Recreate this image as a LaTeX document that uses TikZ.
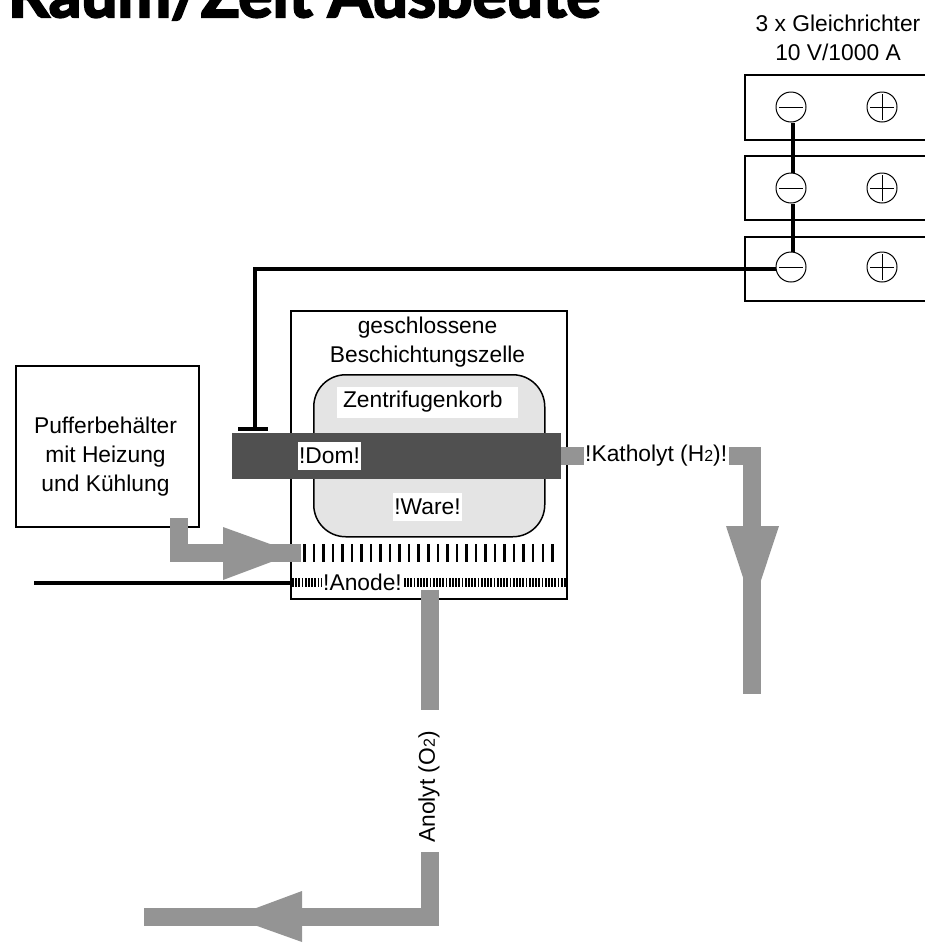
\documentclass[tikz,border=0pt]{standalone}
\usepackage{fontspec}
\setmainfont{Liberation Sans}
\newfontfamily\titlefont[BoldFeatures={FakeBold=3.5}]{Lato}
\usepackage{xcolor}
\definecolor{pipegray}{HTML}{949494}
\definecolor{domgray}{HTML}{505050}
\definecolor{korbgray}{HTML}{E4E4E4}

\begin{document}
\begin{tikzpicture}[
      x=1pt, y=-1pt,
      every node/.style={font=\fontsize{22.8}{29}\selectfont},
      outline/.style={draw, line width=2pt},
      pipe/.style={draw=pipegray, line width=18pt, line join=miter},
      pipehead/.style={fill=pipegray},
      wire/.style={draw, line width=4pt},
      tag/.style={fill=white, inner sep=0pt, text=black},
      pole/.style={draw, circle, fill=white, line width=1pt, minimum size=30pt, inner sep=0pt}
    ]
      \useasboundingbox (0,0) rectangle (925,943);
      \clip (0,0) rectangle (925,943);

      \node[anchor=base west, inner sep=0pt, font=\titlefont\bfseries\fontsize{64}{64}\selectfont] (title) at (8,17) {Raum/Zeit Ausbeute};

      % Gleichrichter
      \node[align=center, inner sep=0pt] (gleichrichter) at (838,38) {3 x Gleichrichter\\10 V/1000 A};
      \foreach \name/\top/\bot/\mid in {a/75/140/107, b/156/220/188, c/237/301/267} {
        \draw[outline] (940,\top) -- (745,\top) -- (745,\bot) -- (940,\bot);
        \node[pole] (minus\name) at (791,\mid) {};
        \node[pole] (plus\name) at (882,\mid) {};
        \draw[line width=1pt] (779,\mid) -- (803,\mid);
        \draw[line width=1pt] (870,\mid) -- (894,\mid) (882,\mid-13) -- (882,\mid+13);
      }
      \draw[wire] ([xshift=1.5pt]minusa.south) -- ([xshift=1.5pt]minusb.north);
      \draw[wire] ([xshift=1.5pt]minusb.south) -- ([xshift=1.5pt]minusc.north);
      \coordinate (domtop) at (255,428);
      \draw[wire] ([yshift=-2pt]minusc.west) -- (255,269) -- (domtop);
      \draw[wire] (238,429) -- (268,429);

      % Zelle
      \node[outline, minimum width=276pt, minimum height=288pt, anchor=north west, inner sep=0pt] (zelle) at (290,310) {};
      \node[align=center, inner sep=0pt] (zelletext) at (427.5,342) {geschlossene\\Beschichtungszelle};
      \node[draw, line width=1.5pt, fill=korbgray, rounded corners=32pt, minimum width=231pt, minimum height=162pt, anchor=north west, inner sep=0pt] (korb) at (313,374) {};
      \node[tag, text width=169pt, align=left, inner xsep=6pt, minimum height=31pt] (zentrifugenkorb) at (427.5,402) {Zentrifugenkorb};
      \node[fill=domgray, minimum width=329pt, minimum height=46pt, anchor=north west, inner sep=0pt] (dom) at (232,433) {};
      \node[tag, minimum width=63pt, minimum height=28pt] (domtext) at (329.5,456) {!Dom!};
      \node[tag, minimum width=69pt, minimum height=28pt] (ware) at (427.5,507) {!Ware!};

      % Gitter und Anode
      \foreach \i in {0,...,26} {
        \fill (303+\i*9.54,544) rectangle (305.5+\i*9.54,562);
      }
      \coordinate (anodeleft) at (292,582.5);
      \coordinate (anoderight) at (566,582.5);
      \draw[line width=9pt, dash pattern=on 1.8pt off 1.4pt] (anodeleft) -- (anoderight);
      \node[tag, minimum width=81pt, minimum height=21pt] (anode) at (362.5,582) {!Anode!};
      \coordinate (anodewire) at (34,582.5);
      \draw[wire] (anodewire) -- (anodeleft);

      % Puffer
      \node[outline, minimum width=183pt, minimum height=161pt, anchor=north west, inner sep=0pt] (puffer) at (15,365) {};
      \node[align=center, inner sep=0pt] (puffertext) at (105.5,457) {Pufferbehälter\\mit Heizung\\und Kühlung};

      % Zulauf
      \coordinate (zulaufa) at (179,518);
      \coordinate (zulaufb) at (179,553);
      \coordinate (zulaufc) at (301,553);
      \draw[pipe] (zulaufa) -- (zulaufb) -- (zulaufc);
      \fill[pipehead] (223,527) -- (295,553) -- (223,580) -- cycle;

      % Katholyt
      \coordinate (katholyta) at (561,456);
      \coordinate (katholytb) at (584,456);
      \draw[pipe] (katholyta) -- (katholytb);
      \node[anchor=west, inner sep=0pt] (katholyt) at (585,456) {!Katholyt (H{\fontsize{16}{16}\selectfont 2})!};
      \coordinate (katholytc) at (729,456);
      \coordinate (katholytd) at (752,456);
      \coordinate (katholyte) at (752,694);
      \draw[pipe] (katholytc) -- (katholytd) -- (katholyte);
      \fill[pipehead] (726,526) -- (779,526) -- (752.5,606) -- cycle;

      % Anolyt
      \coordinate (anolyta) at (430,590);
      \coordinate (anolytb) at (430,710);
      \draw[pipe] (anolyta) -- (anolytb);
      \node[rotate=90, inner sep=0pt] (anolyt) at (429,787) {Anolyt (O{\fontsize{16}{16}\selectfont 2})};
      \coordinate (anolytc) at (430,852);
      \coordinate (anolytd) at (430,917);
      \coordinate (anolyte) at (144,917);
      \draw[pipe] (anolytc) -- (anolytd) -- (anolyte);
      \fill[pipehead] (302,891) -- (302,942) -- (232,917) -- cycle;
  \end{tikzpicture}
\end{document}
